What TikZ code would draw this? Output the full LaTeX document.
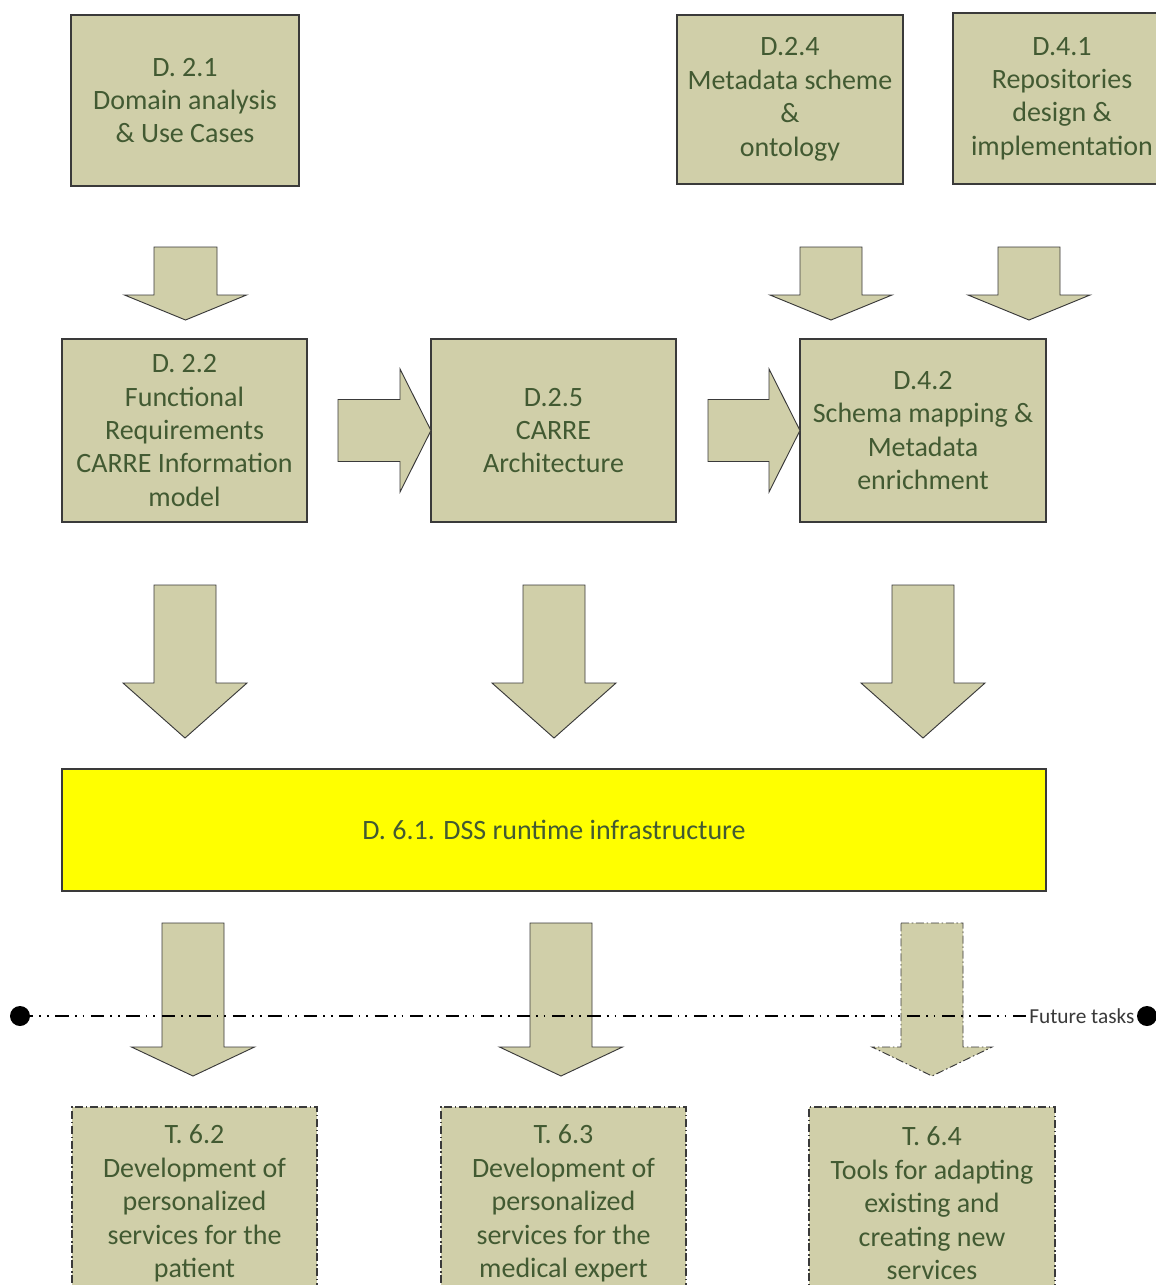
\documentclass[tikz,border=0pt]{standalone}
\usepackage{fontspec}
\setmainfont{Carlito}
\definecolor{boxfill}{HTML}{D0CFA9}
\definecolor{boxline}{HTML}{3A3A3A}
\definecolor{boxtext}{HTML}{425A32}
\definecolor{dssyellow}{HTML}{FFFF00}
\newcommand\dnarrow[7][]{%
  \draw[arrowshape,#1] ({#2-#5},#3) -- ({#2+#5},#3) -- ({#2+#5},#4) -- ({#2+#6},#4)
    -- (#2,#7) -- ({#2-#6},#4) -- ({#2-#5},#4) -- cycle;}
\newcommand\rtarrow[7][]{%
  \draw[arrowshape,#1] (#3,{#2-#5}) -- (#4,{#2-#5}) -- (#4,{#2-#6}) -- (#7,#2)
    -- (#4,{#2+#6}) -- (#4,{#2+#5}) -- (#3,{#2+#5}) -- cycle;}
\begin{document}
\begin{tikzpicture}[x=0.75pt,y=-0.75pt,
  box/.style={draw=boxline, fill=boxfill, line width=0.9pt, text=boxtext, align=center,
    font=\fontsize{21}{25.1}\selectfont, inner sep=0pt},
  futurebox/.style={box, dash pattern=on 6pt off 2pt on 1.2pt off 2pt},
  arrowshape/.style={draw=boxline, fill=boxfill, line width=0.7pt, line join=miter},
  futurearrow/.style={dash pattern=on 6pt off 2pt on 1.2pt off 2pt},
  futureline/.style={draw=black, line width=1.3pt, dash pattern=on 10pt off 4.5pt on 1.3pt off 4.5pt on 1.3pt off 5pt}
]
\useasboundingbox (0,0) rectangle (1156,1285);
\fill[white] (0,0) rectangle (1156,1285);

% top row
\node[box, minimum width=171pt, minimum height=128.25pt] (d21) at (185,100.5)
  {D. 2.1\\Domain analysis\\\& Use Cases};
\node[box, minimum width=169.5pt, minimum height=126.75pt] (d24) at (790,99.5)
  {D.2.4\\Metadata scheme\\\&\\ontology};
\node[box, minimum width=163.5pt, minimum height=128.25pt] (d41) at (1062,98.5)
  {D.4.1\\Repositories\\design \&\\implementation};

% top arrows
\dnarrow{185.5}{247}{295}{31.5}{61}{320}
\dnarrow{831}{247}{295}{31}{61}{320}
\dnarrow{1029}{247}{295}{31}{61}{320}

% middle row
\node[box, minimum width=183.75pt, minimum height=137.25pt] (d22) at (184.5,430.5)
  {D. 2.2\\Functional\\Requirements\\CARRE Information\\model};
\node[box, minimum width=183.75pt, minimum height=137.25pt] (d25) at (553.5,430.5)
  {D.2.5\\CARRE\\Architecture};
\node[box, minimum width=184.5pt, minimum height=137.25pt] (d42) at (923,430.5)
  {D.4.2\\Schema mapping \&\\Metadata\\enrichment};

% right arrows
\rtarrow{430.5}{338}{400}{31}{61.5}{431}
\rtarrow{430.5}{708}{769}{31}{61.5}{800}

% big down arrows
\dnarrow{185}{585}{683}{31}{62}{738}
\dnarrow{554}{585}{683}{31}{62}{738}
\dnarrow{923}{585}{683}{31}{62}{738}

% DSS box
\node[box, fill=dssyellow, minimum width=738pt, minimum height=91.5pt] (d61) at (554,830)
  {D. 6.1. DSS runtime infrastructure};

% lower arrows
\dnarrow{193}{923}{1047}{31}{61.5}{1076}
\dnarrow{561}{923}{1047}{31}{61.5}{1076}
\dnarrow[futurearrow]{932}{923}{1047}{31}{60}{1076}

% future tasks line
\coordinate (lstart) at (20,1016);
\node[anchor=west, inner sep=0pt, text=boxline, font=\fontsize{16}{18}\selectfont] (ft) at (1029,1016) {Future tasks};
\coordinate (lend) at (1147,1016);
\draw[futureline] (lstart) -- (ft.west);
\fill[black] (lstart) circle (7.5pt);
\fill[black] (lend) circle (7.5pt);

% bottom boxes
\node[futurebox, minimum width=183.75pt, minimum height=144.75pt] (t62) at (194.5,1203.5)
  {T. 6.2\\Development of\\personalized\\services for the\\patient};
\node[futurebox, minimum width=183.75pt, minimum height=144.75pt] (t63) at (563.5,1203.5)
  {T. 6.3\\Development of\\personalized\\services for the\\medical expert};
\node[futurebox, minimum width=184.5pt, minimum height=144.75pt] (t64) at (932,1203.5)
  {T. 6.4\\Tools for adapting\\existing and\\creating new\\services};
\end{tikzpicture}
\end{document}
